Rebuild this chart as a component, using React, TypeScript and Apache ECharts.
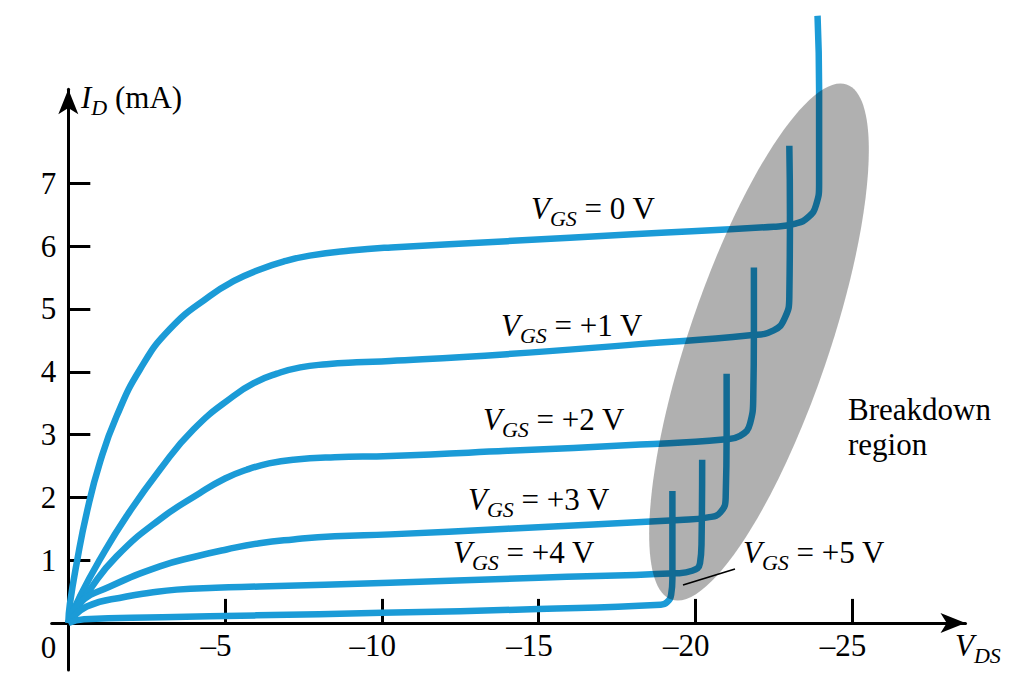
import React, { useEffect, useRef } from 'react';
import * as echarts from 'echarts';

const FONT = '"Liberation Serif", "Times New Roman", Times, serif';
const BLUE = '#1b9bd7';

// |V_DS| (V), I_D (mA) — drain characteristics for each V_GS
const vgsLabels = ['0', '+1', '+2', '+3', '+4', '+5'];

const curveVgs0 = [
  [0, 0], [0.05, 0.3], [0.27, 0.96], [0.59, 1.76], [1.01, 2.56], [1.54, 3.29], [2.29, 4.04],
  [3.24, 4.68], [4.52, 5.21], [5.3, 5.45], [6.11, 5.63], [6.9, 5.76], [7.7, 5.85], [9.0, 5.93],
  [10.3, 5.98], [14, 6.08], [18, 6.19], [22.5, 6.31], [23.2, 6.36], [23.6, 6.46], [23.85, 6.65],
  [23.95, 7.0], [23.95, 8.5], [23.9, 9.67],
];
const curveVgs1 = [
  [0, 0], [0.37, 0.42], [1.01, 1.01], [1.86, 1.7], [2.92, 2.44], [3.99, 3.08], [5.26, 3.61],
  [6.0, 3.84], [6.65, 3.97], [7.4, 4.07], [8.24, 4.12], [9.2, 4.15], [10.26, 4.17], [14, 4.28],
  [18.2, 4.44], [21.75, 4.58], [22.5, 4.66], [22.85, 4.85], [23.0, 5.2], [23.02, 6.5], [23.0, 7.6],
];
const curveVgs2 = [
  [0, 0], [0.69, 0.53], [1.54, 1.06], [2.92, 1.65], [4.2, 2.07], [5.0, 2.3], [5.69, 2.44],
  [6.4, 2.54], [7.18, 2.6], [8.5, 2.64], [10.27, 2.66], [14, 2.74], [18.24, 2.84], [20.9, 2.92],
  [21.43, 2.98], [21.75, 3.18], [21.85, 3.6], [21.87, 4.6], [21.87, 5.66],
];
const curveVgs3 = [
  [0, 0], [0.37, 0.32], [1.33, 0.58], [2.92, 0.9], [4.0, 1.05], [5.05, 1.17], [6.1, 1.27],
  [7.18, 1.33], [8.5, 1.38], [10.26, 1.41], [14, 1.5], [19.5, 1.64], [20.4, 1.68], [20.8, 1.76],
  [20.97, 2.0], [21.0, 3.0], [21.0, 3.97],
];
const curveVgs4 = [
  [0, 0], [0.59, 0.26], [1.86, 0.42], [2.6, 0.48], [3.46, 0.53], [4.7, 0.56], [6.11, 0.58],
  [10.26, 0.64], [15, 0.72], [19.4, 0.79], [19.9, 0.83], [20.15, 0.95], [20.2, 1.3], [20.22, 2.6],
];
const curveVgs5 = [
  [0, 0], [0.5, 0.06], [3, 0.09], [6, 0.12], [10, 0.16], [15, 0.22], [18.9, 0.29],
  [19.1, 0.33], [19.23, 0.45], [19.27, 0.7], [19.27, 2.1],
];
const curves = [curveVgs0, curveVgs1, curveVgs2, curveVgs3, curveVgs4, curveVgs5];

const xTickValues = [5, 10, 15, 20, 25];
const xTickLabels = ['–5', '–10', '–15', '–20', '–25'];
const yTickValues = [1, 2, 3, 4, 5, 6, 7];

const richSub = {
  v: { fontFamily: FONT, fontSize: 31, fontStyle: 'italic', lineHeight: 31, fill: '#000' },
  s: { fontFamily: FONT, fontSize: 22, fontStyle: 'italic', lineHeight: 22, padding: [20, 0, 0, 0], fill: '#000' },
  t: { fontFamily: FONT, fontSize: 31, lineHeight: 31, fill: '#000' },
};

// label anchor positions (left edge, middle of main text)
const labelPos = [
  [531, 208], [501, 325], [483, 419], [468, 499], [453, 552], [743, 552],
];

export default function App() {
  const ref = useRef<HTMLDivElement>(null);
  useEffect(() => {
    document.body.style.margin = '0';
    const chart = echarts.init(ref.current as HTMLDivElement, null, { renderer: 'svg' });

    const series = curves.map((c, i) => ({
      type: 'line',
      name: 'VGS = ' + vgsLabels[i] + ' V',
      data: c,
      showSymbol: false,
      symbol: 'none',
      smooth: 0.5,
      clip: false,
      lineStyle: { color: BLUE, width: 6.5, cap: 'butt', join: 'round' },
      z: 2,
    }));

    const labelGraphics = vgsLabels.map((v, i) => ({
      type: 'text',
      x: labelPos[i][0],
      y: labelPos[i][1],
      z: 20,
      style: {
        text: '{v|V}{s|GS}{t| = ' + v + ' V}',
        rich: richSub,
        align: 'left',
        verticalAlign: 'middle',
        textAlign: 'left',
        textVerticalAlign: 'middle',
      },
    }));

    const option: any = {
      animation: false,
      backgroundColor: '#ffffff',
      grid: {
        left: 51.7, right: 58.5, top: 89.2, bottom: 23,
        containLabel: false, outerBoundsMode: 'none',
      },
      xAxis: {
        type: 'value',
        min: -0.53,
        max: 28.62,
        axisLine: {
          show: true, onZero: true, symbol: ['none', 'arrow'], symbolSize: [15, 25],
          lineStyle: { color: '#000', width: 3 },
        },
        axisTick: {
          show: true, inside: true, length: 24, customValues: xTickValues,
          lineStyle: { color: '#000', width: 3 },
        },
        axisLabel: {
          show: true,
          customValues: xTickValues,
          formatter: (val: number) => xTickLabels[xTickValues.indexOf(Math.round(val))] || '',
          margin: -40,
          fontSize: 31,
          fontFamily: FONT,
          color: '#000',
          padding: [0, 18, 0, 0],
        },
        splitLine: { show: false },
      },
      yAxis: {
        type: 'value',
        min: -0.75,
        max: 8.5,
        axisLine: {
          show: true, onZero: true, symbol: ['none', 'arrow'], symbolSize: [15, 25],
          lineStyle: { color: '#000', width: 3 },
        },
        axisTick: {
          show: true, inside: true, length: 22, customValues: yTickValues,
          lineStyle: { color: '#000', width: 3 },
        },
        axisLabel: {
          show: true,
          customValues: yTickValues,
          margin: -4.6,
          fontSize: 31,
          fontFamily: FONT,
          color: '#000',
        },
        splitLine: { show: false },
      },
      series,
      graphic: [
        {
          type: 'ellipse',
          x: 759,
          y: 342,
          rotation: -0.328,
          shape: { cx: 0, cy: 0, rx: 70, ry: 272 },
          style: { fill: 'rgba(0,0,0,0.31)' },
          z: 10,
          silent: true,
        },
        ...labelGraphics,
        {
          type: 'line',
          shape: { x1: 683, y1: 585, x2: 735, y2: 569 },
          style: { stroke: '#000', lineWidth: 1.5 },
          z: 20,
        },
        {
          type: 'text',
          x: 848,
          y: 391.5,
          z: 20,
          style: {
            text: 'Breakdown\nregion',
            fontFamily: FONT,
            fontSize: 31,
            lineHeight: 35,
            fill: '#000',
            align: 'left',
            verticalAlign: 'top',
            textAlign: 'left',
            textVerticalAlign: 'top',
          },
        },
        {
          type: 'text',
          x: 81,
          y: 97,
          z: 20,
          style: {
            text: '{v|I}{s|D}{t| (mA)}',
            rich: richSub,
            align: 'left',
            verticalAlign: 'middle',
            textAlign: 'left',
            textVerticalAlign: 'middle',
          },
        },
        {
          type: 'text',
          x: 955,
          y: 645,
          z: 20,
          style: {
            text: '{v|V}{s|DS}',
            rich: richSub,
            align: 'left',
            verticalAlign: 'middle',
            textAlign: 'left',
            textVerticalAlign: 'middle',
          },
        },
        {
          type: 'text',
          x: 48.5,
          y: 647,
          z: 20,
          style: {
            text: '0',
            fontFamily: FONT,
            fontSize: 31,
            fill: '#000',
            align: 'center',
            verticalAlign: 'middle',
            textAlign: 'center',
            textVerticalAlign: 'middle',
          },
        },
      ],
    };
    chart.setOption(option);
    return () => chart.dispose();
  }, []);
  return (
    <div
      ref={ref}
      style={{ position: 'fixed', left: 0, top: 0, width: '1024px', height: '693px', background: '#fff' }}
    />
  );
}
